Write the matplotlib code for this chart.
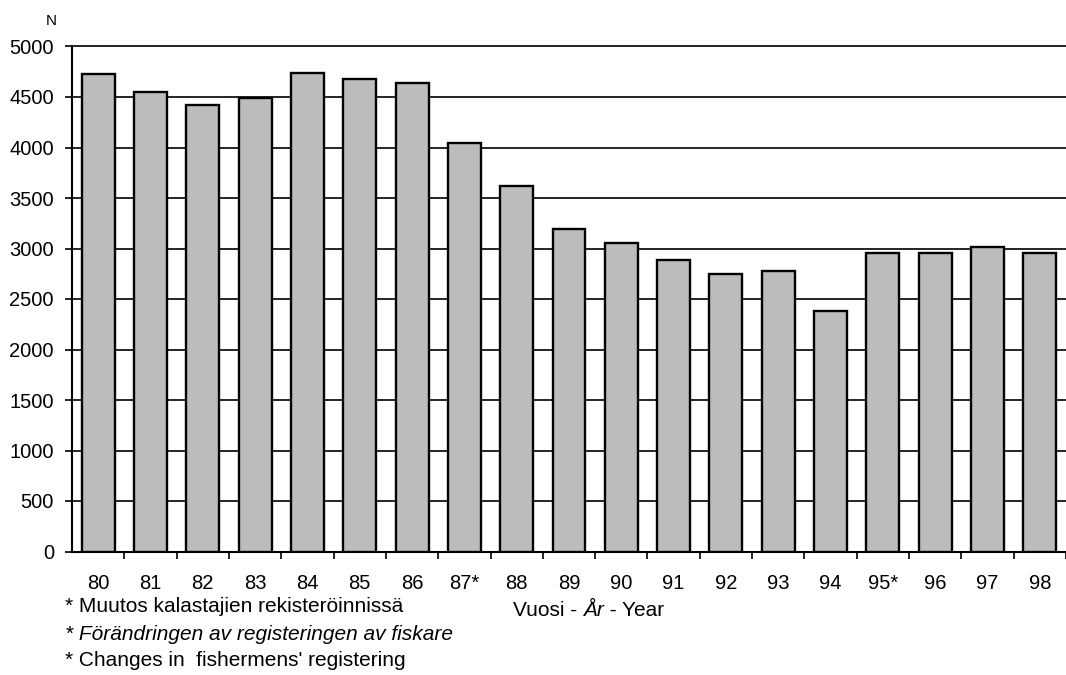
import matplotlib
matplotlib.use("Agg")
import matplotlib.pyplot as plt
import numpy as np

years = ["80", "81", "82", "83", "84", "85", "86", "87*", "88", "89",
         "90", "91", "92", "93", "94", "95*", "96", "97", "98"]
counts = [4725, 4545, 4420, 4495, 4740, 4675, 4640, 4040, 3615, 3190,
          3050, 2890, 2745, 2775, 2380, 2955, 2955, 3010, 2955]
yticks = [0, 500, 1000, 1500, 2000, 2500, 3000, 3500, 4000, 4500, 5000]
footnotes = ["* Muutos kalastajien rekisteröinnissä",
             "* Förändringen av registeringen av fiskare",
             "* Changes in  fishermens' registering"]
xlabel_parts = [("Vuosi - ", "normal"), ("År", "italic"), (" - Year", "normal")]

plt.rcParams['font.family'] = ['Liberation Sans', 'DejaVu Sans']

W, H = 1066, 675
fig = plt.figure(figsize=(W / 100, H / 100), dpi=100)
left_px, right_px, top_px, bot_px = 72, 1066, 46.5, 551.5
ax = fig.add_axes([left_px / W, 1 - bot_px / H, (right_px - left_px) / W, (bot_px - top_px) / H])

x = np.arange(len(years))
ax.set_axisbelow(True)
ax.yaxis.grid(True, color='black', linewidth=1.2)
ax.axhline(yticks[-1], color='black', linewidth=1.2, clip_on=False, zorder=1)
ax.bar(x, counts, width=0.63, color='#bcbcbc', edgecolor='black', linewidth=1.7, zorder=3)

ax.set_xlim(-0.5, 18.43)
ax.set_ylim(0, 5000)
ax.set_yticks(yticks)
ax.set_yticklabels([str(v) for v in yticks], fontsize=14.5)
ax.tick_params(axis='y', direction='out', length=5, width=1.2, pad=8, colors='black')

ax.set_xticks(x)
ax.set_xticklabels(years, fontsize=14.5)
ax.tick_params(axis='x', which='major', length=0, pad=16.5)
ax.set_xticks(np.arange(len(years)) + 0.5, minor=True)
ax.tick_params(axis='x', which='minor', direction='out', length=5, width=1.2)

for s in ['top', 'right']:
    ax.spines[s].set_visible(False)
for s in ['left', 'bottom']:
    ax.spines[s].set_linewidth(1.5)
    ax.spines[s].set_color('black')

fig.text(51.7 / W, 1 - 20.7 / H, "N", fontsize=11, ha='center', va='center')

for i, t in enumerate(footnotes):
    fig.text(65 / W, 1 - (607 + 27 * i) / H, t, fontsize=15, ha='left', va='center',
             style='italic' if i == 1 else 'normal')

# composite x label with italic middle part
renderer = fig.canvas.get_renderer()
xpos = 513
for txt, st in xlabel_parts:
    t = fig.text(xpos / W, 1 - 610 / H, txt, fontsize=15, ha='left', va='center', style=st)
    bb = t.get_window_extent(renderer=renderer)
    xpos += bb.width

fig.savefig("out.png", dpi=100)
